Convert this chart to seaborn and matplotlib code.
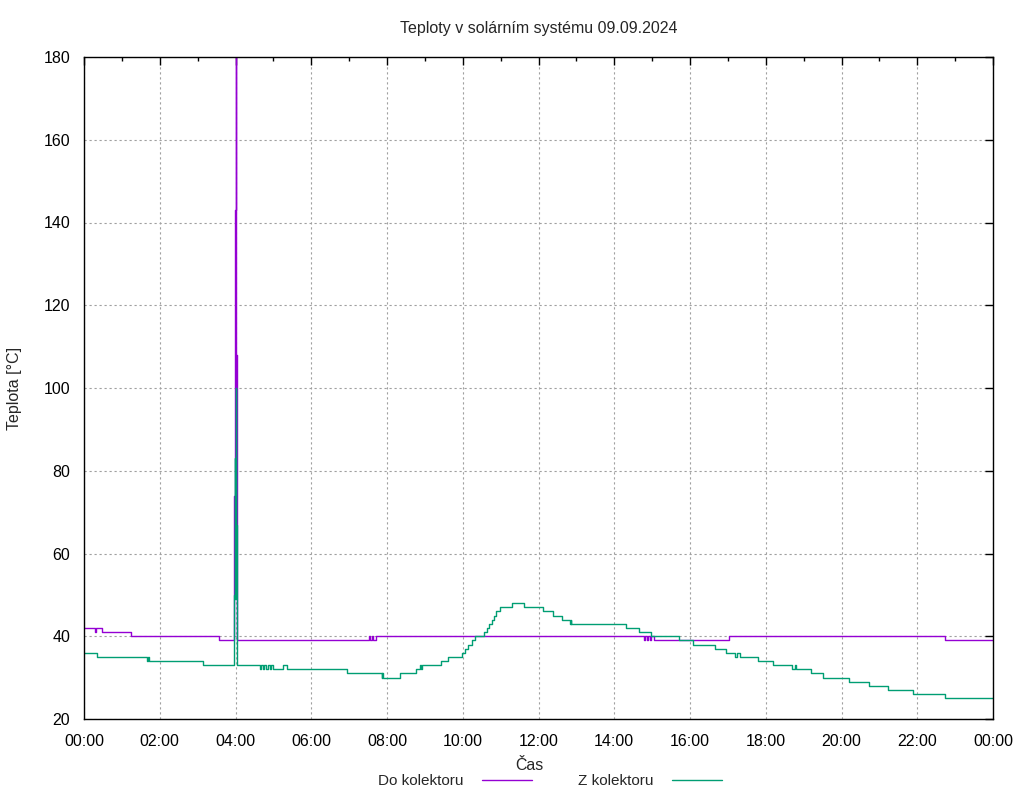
import matplotlib
matplotlib.use("Agg")
import matplotlib.pyplot as plt
import matplotlib.ticker as mticker
import seaborn as sns
import pandas as pd

# ---- data (hours since midnight, temperature in °C), step change points ----
series_names = ["Do kolektoru", "Z kolektoru"]
colors = ["#9400d3", "#009e73"]

do_t = [0.0, 0.30, 0.33, 0.48, 1.23, 3.56,
        3.960, 3.965, 3.975, 3.990, 4.000, 4.010, 4.025, 4.035, 4.045,
        7.53, 7.56, 7.60, 7.63, 7.70,
        14.78, 14.81, 14.86, 14.89, 14.95, 14.98, 15.05,
        17.04, 22.73, 24.0]
do_v = [42, 41, 42, 41, 40, 39,
        39, 74, 50, 143, 180, 68, 108, 66, 39,
        40, 39, 40, 39, 40,
        39, 40, 39, 40, 39, 40, 39,
        40, 39, 39]

z_t = [0.0, 0.35, 1.66, 1.69, 1.72, 3.13,
       3.960, 3.965, 3.980, 3.990, 4.000, 4.010, 4.025, 4.035, 4.045,
       4.65, 4.68, 4.72, 4.76, 4.80, 4.85, 4.90, 4.95, 5.00, 5.26, 5.36,
       6.95, 7.86, 7.88, 7.90, 8.34, 8.77, 8.87, 8.90, 8.93, 8.96,
       9.43, 9.62, 9.97, 10.06, 10.15, 10.24, 10.32, 10.41, 10.56, 10.63,
       10.69, 10.76, 10.82, 10.89, 10.98, 11.29, 11.63, 12.11, 12.39, 12.61,
       12.83, 12.85, 12.87, 14.30, 14.66, 14.96, 15.71, 16.09, 16.67, 16.96,
       17.20, 17.23, 17.32, 17.80, 18.20, 18.68, 18.76, 18.80, 19.19, 19.50,
       20.20, 20.73, 21.22, 21.88, 22.73, 24.0]
z_v = [36, 35, 34, 35, 34, 33,
       33, 50, 83, 49, 100, 66, 67, 35, 33,
       32, 33, 32, 33, 32, 33, 32, 33, 32, 33, 32,
       31, 30, 31, 30, 31, 32, 33, 32, 33, 33,
       34, 35, 36, 37, 38, 39, 40, 40, 41, 42,
       43, 44, 45, 46, 47, 48, 47, 46, 45, 44,
       43, 44, 43, 42, 41, 40, 39, 38, 37, 36,
       35, 36, 35, 34, 33, 32, 33, 32, 31, 30,
       29, 28, 27, 26, 25, 25]

x_ticks = list(range(0, 25, 2))
x_tick_labels = [f"{h % 24:02d}:00" for h in x_ticks]
y_ticks = list(range(20, 181, 20))

title = "Teploty v solárním systému 09.09.2024"
x_label = "Čas"
y_label = "Teplota [°C]"

df = pd.concat([
    pd.DataFrame({"t": do_t, "v": do_v, "serie": series_names[0]}),
    pd.DataFrame({"t": z_t, "v": z_v, "serie": series_names[1]}),
], ignore_index=True)

# ---- style ----
sns.set_style("white")
plt.rcParams["font.family"] = ["Liberation Sans", "DejaVu Sans"]
plt.rcParams["font.size"] = 11.5

fig = plt.figure(figsize=(10.24, 8), dpi=100)
ax = fig.add_axes([84 / 1024, 1 - 719 / 800, (993 - 84) / 1024, (719 - 57) / 800])

sns.lineplot(data=df, x="t", y="v", hue="serie", hue_order=series_names,
             palette=colors, drawstyle="steps-post", estimator=None,
             linewidth=1.0, ax=ax, legend=True)

ax.set_xlim(0, 24)
ax.set_ylim(20, 180)
ax.set_xticks(x_ticks)
ax.set_xticklabels(x_tick_labels)
ax.xaxis.set_minor_locator(mticker.MultipleLocator(1))
ax.set_yticks(y_ticks)

for s in ax.spines.values():
    s.set_color("black")
    s.set_linewidth(1.0)

ax.tick_params(which="both", direction="in", top=True, right=True,
               colors="black", labelsize=11.5)
ax.tick_params(axis="x", which="major", length=6, width=1, pad=11)
ax.tick_params(axis="y", which="major", length=6, width=1, pad=10)
ax.tick_params(which="minor", length=3, width=1)

ax.grid(True, which="major", color="#a0a0a0", linestyle=(0, (2, 2.5)), linewidth=0.8)

ax.set_xlabel(x_label, fontsize=11.5)
ax.set_ylabel(y_label, fontsize=11.5)
ax.xaxis.set_label_coords(0.49, (719 - 765) / 662)
ax.xaxis.label.set_va("center")
ax.yaxis.set_label_coords((15 - 84) / 909, 0.5)
ax.yaxis.label.set_va("center")

ax.set_title(title, fontsize=11.5, y=1 + (57 - 28) / 662, va="center", pad=0)

handles, labels = ax.get_legend_handles_labels()
leg = ax.legend(handles, labels, loc="center", bbox_to_anchor=(0.513, (719 - 781) / 662),
                ncol=2, frameon=False, markerfirst=False, handlelength=3.3,
                handletextpad=1.2, columnspacing=3.0, fontsize=11)
for h in leg.get_lines():
    h.set_linewidth(1.0)

fig.savefig("out.png", dpi=100)
